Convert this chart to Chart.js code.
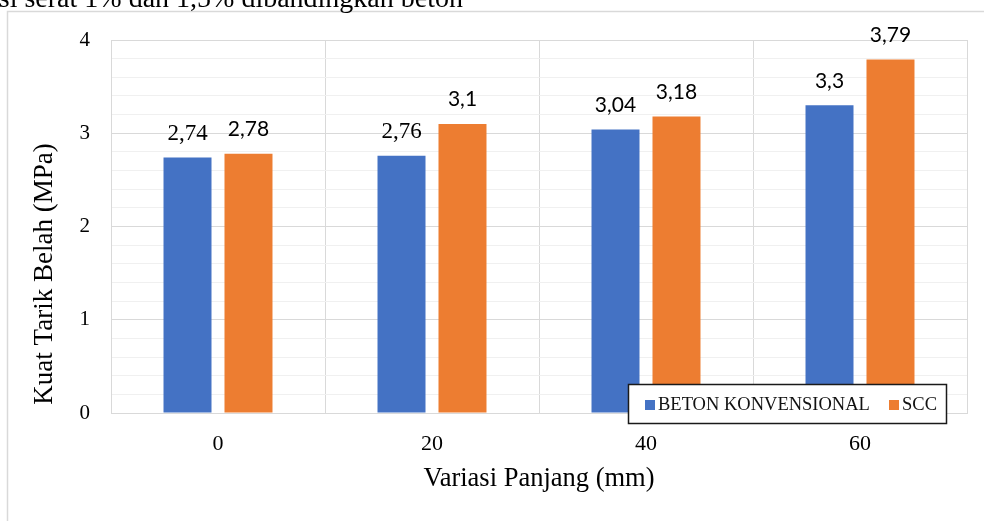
<!DOCTYPE html>
<html>
<head>
<meta charset="utf-8">
<script src="https://cdn.jsdelivr.net/npm/chart.js@4.4.1/dist/chart.umd.min.js"></script>
<style>
  html, body { margin: 0; padding: 0; background: #ffffff; }
  #wrap { position: relative; width: 984px; height: 521px; overflow: hidden; }
  canvas { display: block; }
</style>
</head>
<body>
<div id="wrap"><canvas id="chart" width="984" height="521"></canvas></div>
<script>
// Kuat tarik belah per variasi panjang serat
const categories = ['0', '20', '40', '60'];
const betonKonvensional = [2.74, 2.76, 3.04, 3.3];
const scc = [2.78, 3.1, 3.18, 3.79];
const yTickLabels = [0, 1, 2, 3, 4];

const seriesNames = ['BETON KONVENSIONAL', 'SCC'];
const seriesColors = ['#4472C4', '#ED7D31'];
// label typeface per bar (serif for the first two blue labels)
const labelSerif = [[true, true, false, false], [false, false, false, false]];

const SERIF = '"Liberation Serif", "Times New Roman", serif';
const SANS = 'Lato, "Open Sans", sans-serif';
const GRID_MAJOR = '#d9d9d9';
const GRID_MINOR = '#f0f0f0';

function isWhole(v) { return Math.abs(v - Math.round(v)) < 1e-6; }
function fmt(v) { return String(v).replace('.', ','); }

// frame, caption line and axis titles
const decorPlugin = {
  id: 'decor',
  beforeDraw(chart) {
    const ctx = chart.ctx;
    ctx.save();
    ctx.fillStyle = '#ffffff';
    ctx.fillRect(0, 0, chart.width, chart.height);
    ctx.strokeStyle = GRID_MAJOR;
    ctx.lineWidth = 1.5;
    ctx.beginPath();
    ctx.moveTo(7.5, chart.height + 2);
    ctx.lineTo(7.5, 11.5);
    ctx.lineTo(chart.width + 2, 11.5);
    ctx.stroke();
    ctx.fillStyle = '#000000';
    ctx.font = '28px ' + SERIF;
    ctx.textAlign = 'right';
    ctx.textBaseline = 'alphabetic';
    ctx.fillText('si serat 1% dan 1,5% dibandingkan beton', 463, 7);
    ctx.restore();
  },
  afterDraw(chart) {
    const ctx = chart.ctx;
    ctx.save();
    ctx.fillStyle = '#000000';
    ctx.font = '26.5px ' + SERIF;
    ctx.textAlign = 'center';
    ctx.textBaseline = 'alphabetic';
    ctx.fillText('Variasi Panjang (mm)', 539, 486);
    ctx.font = '27px ' + SERIF;
    ctx.textBaseline = 'middle';
    ctx.translate(45, 274);
    ctx.rotate(-Math.PI / 2);
    ctx.fillText('Kuat Tarik Belah (MPa)', 0, 0);
    ctx.restore();
  }
};

// value labels above each bar
const valueLabelPlugin = {
  id: 'valueLabels',
  afterDatasetsDraw(chart) {
    const ctx = chart.ctx;
    ctx.save();
    ctx.fillStyle = '#000000';
    ctx.textAlign = 'center';
    ctx.textBaseline = 'alphabetic';
    chart.data.datasets.forEach((ds, di) => {
      const meta = chart.getDatasetMeta(di);
      meta.data.forEach((bar, i) => {
        const serif = labelSerif[di][i];
        ctx.font = serif ? '23px ' + SERIF : '21px ' + SANS;
        ctx.fillText(fmt(ds.data[i]), bar.x, bar.y - 17.5);
      });
    });
    ctx.restore();
  }
};

// boxed legend inside the plot area
const boxLegendPlugin = {
  id: 'boxLegend',
  afterDraw(chart) {
    const ctx = chart.ctx;
    ctx.save();
    const x0 = 628, y0 = 384, w = 319, h = 40;
    ctx.fillStyle = '#ffffff';
    ctx.fillRect(x0, y0, w, h);
    ctx.strokeStyle = '#1a1a1a';
    ctx.lineWidth = 1.5;
    ctx.strokeRect(x0 + 0.5, y0 + 0.5, w - 1, h - 1);
    ctx.font = '18.5px ' + SERIF;
    ctx.textBaseline = 'alphabetic';
    ctx.textAlign = 'left';
    const items = [{ sx: 645, tx: 658 }, { sx: 889, tx: 902 }];
    chart.data.datasets.forEach((ds, di) => {
      const it = items[di];
      ctx.fillStyle = ds.backgroundColor;
      ctx.fillRect(it.sx, 400, 10, 10);
      ctx.fillStyle = '#111111';
      ctx.fillText(ds.label, it.tx, 410);
    });
    ctx.restore();
  }
};

new Chart(document.getElementById('chart'), {
  type: 'bar',
  data: {
    labels: categories,
    datasets: [
      { label: seriesNames[0], data: betonKonvensional, backgroundColor: seriesColors[0] },
      { label: seriesNames[1], data: scc, backgroundColor: seriesColors[1] }
    ]
  },
  options: {
    responsive: false,
    animation: false,
    devicePixelRatio: 1,
    layout: { padding: { left: 0, top: 40, right: 17, bottom: 0 } },
    categoryPercentage: 0.57,
    barPercentage: 0.787,
    plugins: {
      legend: { display: false },
      tooltip: { enabled: false },
      title: { display: false }
    },
    scales: {
      x: {
        grid: { offset: true, color: GRID_MAJOR, lineWidth: 1, drawTicks: false },
        border: { color: GRID_MAJOR, width: 1 },
        ticks: { color: '#000000', font: { family: SERIF, size: 22 }, padding: 18 },
        afterFit(scale) { scale.height = 108; }
      },
      y: {
        min: yTickLabels[0],
        max: yTickLabels[yTickLabels.length - 1],
        grid: {
          drawTicks: false,
          color: (c) => (c.tick && isWhole(c.tick.value)) ? GRID_MAJOR : GRID_MINOR,
          lineWidth: 1
        },
        border: { color: GRID_MAJOR, width: 1 },
        ticks: {
          stepSize: 0.2,
          autoSkip: false,
          color: '#000000',
          font: { family: SERIF, size: 21 },
          padding: 21,
          callback: (v) => {
            const r = Math.round(v);
            return (isWhole(v) && yTickLabels.includes(r)) ? String(r) : '';
          }
        },
        afterFit(scale) { scale.width = 111; }
      }
    }
  },
  plugins: [decorPlugin, valueLabelPlugin, boxLegendPlugin]
});
</script>
</body>
</html>
